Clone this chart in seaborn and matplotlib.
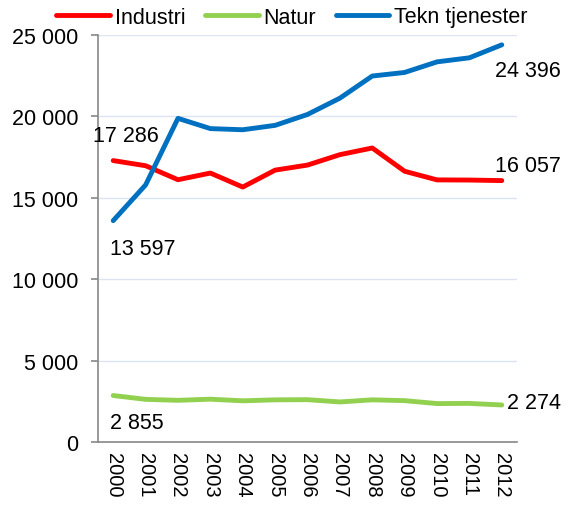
import numpy as np
import pandas as pd
import matplotlib
matplotlib.use("Agg")
import matplotlib.pyplot as plt
import seaborn as sns
from matplotlib.ticker import FuncFormatter

years = ["2000", "2001", "2002", "2003", "2004", "2005", "2006",
         "2007", "2008", "2009", "2010", "2011", "2012"]
industri = [17286, 16970, 16110, 16520, 15660, 16700, 17010,
            17650, 18060, 16630, 16100, 16090, 16057]
natur = [2855, 2620, 2560, 2630, 2530, 2590, 2600,
         2460, 2590, 2540, 2360, 2370, 2274]
tekn = [13597, 15790, 19880, 19250, 19180, 19450, 20120,
        21120, 22480, 22700, 23350, 23600, 24396]
series_names = ["Industri", "Natur", "Tekn tjenester"]
colors = ["#ff0000", "#92d050", "#0070c0"]

df = pd.DataFrame({
    "year": years * 3,
    "value": industri + natur + tekn,
    "series": [series_names[0]] * 13 + [series_names[1]] * 13 + [series_names[2]] * 13,
})
df["x"] = df["year"].map({y: i for i, y in enumerate(years)})

sns.set_style("white")
plt.rcParams["font.family"] = ["Liberation Sans", "DejaVu Sans"]
plt.rcParams["text.color"] = "black"
plt.rcParams["xtick.labelcolor"] = "black"
plt.rcParams["ytick.labelcolor"] = "black"
FS = 15.5
plt.rcParams["font.size"] = FS

fig = plt.figure(figsize=(5.68, 5.06), dpi=100)
ax = fig.add_axes([98 / 568, 1 - 443 / 506, (517 - 98) / 568, (443 - 36) / 506])

sns.lineplot(data=df, x="x", y="value", hue="series", palette=colors,
             hue_order=series_names, linewidth=3.5, ax=ax, legend=True,
             solid_capstyle="round", zorder=3)

ax.set_xlim(-0.47, 12.47)
ax.set_ylim(0, 25000)
ax.set_yticks(np.arange(0, 25001, 5000))
ax.yaxis.set_major_formatter(FuncFormatter(lambda v, p: f"{int(v):,}".replace(",", " ")))
ax.set_xticks(range(len(years)))
ax.set_xticklabels(years, rotation=-90)
ax.set_xlabel("")
ax.set_ylabel("")
ax.grid(axis="y", color="#dbe4f0", linewidth=1)
ax.set_axisbelow(True)
for s in ["top", "right"]:
    ax.spines[s].set_visible(False)
for s in ["left", "bottom"]:
    ax.spines[s].set_color("#888888")
    ax.spines[s].set_linewidth(1.2)
ax.tick_params(axis="y", which="major", left=True, length=5, width=1.2, color="#888888",
               labelsize=FS, labelcolor="black", pad=9)
ax.tick_params(axis="x", which="major", bottom=False, labelsize=14.5, labelcolor="black", pad=4)

fmt = lambda v: f"{v:,}".replace(",", " ")
def lab(xi, yv, dx, dy):
    ax.annotate(fmt(yv), (xi, yv), xytext=(dx, dy), textcoords="offset pixels",
                ha="left", va="center", fontsize=FS, color="black")

lab(0, industri[0], -20, 25)
lab(0, tekn[0], -3, -28)
lab(0, natur[0], -3, -27)
lab(12, industri[-1], -7, 15)
lab(12, tekn[-1], -7, -26)
lab(12, natur[-1], 5, 2)

handles, labels = ax.get_legend_handles_labels()
leg = ax.legend(handles, labels, loc="center", bbox_to_anchor=(292 / 568, 1 - 18 / 506),
                bbox_transform=fig.transFigure, ncol=3, frameon=False, fontsize=FS,
                handlelength=2.5, handletextpad=0.22, columnspacing=0.9, borderaxespad=0,
                borderpad=0)
for t in leg.get_texts():
    t.set_color("black")

fig.savefig("out.png", dpi=100)
